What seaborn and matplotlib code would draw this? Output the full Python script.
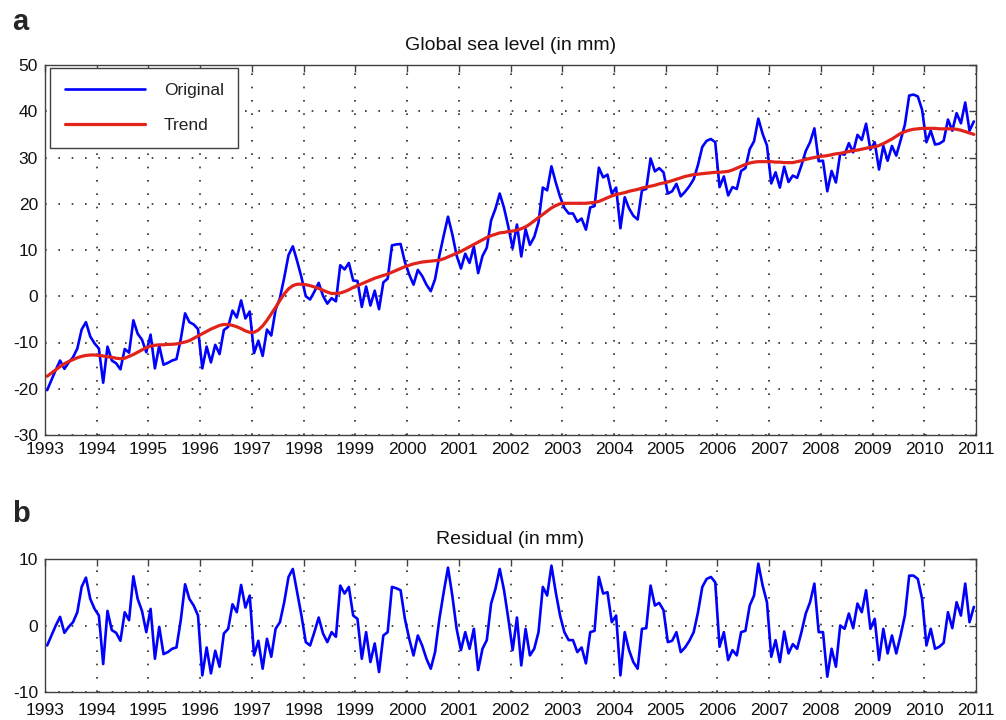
import numpy as np
import pandas as pd
import matplotlib
matplotlib.use("Agg")
import matplotlib.pyplot as plt
import seaborn as sns

# Monthly global mean sea level, Jan 1993 - Dec 2010 (mm), one row per year
original_mm = [
    -20.3, -18.1, -15.9, -13.9, -15.7, -14.3, -13.2, -11.3, -7.2, -5.6, -8.7, -10.2,   # 1993
    -11.3, -18.7, -10.9, -13.9, -14.5, -15.8, -11.4, -12.2, -5.2, -8.1, -9.4, -12.1,   # 1994
    -8.3, -15.6, -10.7, -14.8, -14.4, -13.9, -13.6, -9.3, -3.7, -5.6, -6.1, -7.1,      # 1995
    -15.6, -10.9, -14.3, -10.5, -12.5, -7.3, -6.6, -3.1, -4.6, -0.9, -4.8, -3.3,       # 1996
    -12.3, -9.6, -12.9, -7.2, -8.5, -2.9, -0.4, 4.0, 8.9, 10.8, 7.6, 4.1,             # 1997
    0.0, -0.7, 1.0, 2.9, 0.1, -1.6, -0.4, -1.1, 6.7, 5.8, 7.2, 3.4,                   # 1998
    3.3, -2.3, 2.1, -2.0, 1.2, -2.8, 3.0, 3.8, 11.0, 11.2, 11.3, 7.4,                 # 1999
    4.7, 2.5, 5.7, 4.4, 2.5, 1.1, 3.7, 8.8, 13.1, 17.2, 13.4, 8.8,                    # 2000
    6.0, 9.2, 7.2, 10.7, 5.0, 8.7, 10.5, 16.4, 18.9, 22.2, 19.1, 15.0,                # 2001
    10.4, 15.5, 8.6, 14.5, 11.1, 12.8, 16.0, 23.5, 22.9, 28.1, 24.6, 21.5,            # 2002
    19.1, 17.9, 17.9, 16.1, 16.8, 14.4, 19.2, 19.5, 27.8, 25.7, 26.3, 22.2,           # 2003
    23.5, 14.7, 21.4, 19.0, 17.4, 16.6, 22.9, 23.2, 29.8, 27.0, 27.7, 26.8,           # 2004
    22.2, 22.7, 24.3, 21.6, 22.6, 23.8, 25.3, 28.4, 32.3, 33.6, 34.0, 33.3,           # 2005
    23.6, 25.9, 21.8, 23.6, 23.2, 27.1, 27.7, 31.8, 33.5, 38.4, 35.1, 32.6,           # 2006
    24.4, 26.8, 23.5, 28.0, 24.7, 26.1, 25.6, 28.3, 31.4, 33.3, 36.3, 29.2,           # 2007
    29.3, 22.7, 27.1, 24.6, 30.9, 30.6, 33.1, 31.1, 34.9, 33.8, 37.3, 31.7,           # 2008
    33.3, 27.4, 32.5, 29.3, 32.5, 30.4, 33.7, 37.1, 43.4, 43.6, 43.2, 40.3,           # 2009
    33.3, 35.8, 32.8, 33.0, 33.6, 38.2, 35.8, 39.6, 37.4, 41.9, 35.8, 37.8,           # 2010
]

trend_mm = [
    -17.3, -16.6, -15.9, -15.2, -14.6, -14.1, -13.7, -13.3, -13.0, -12.8, -12.7, -12.7,  # 1993
    -12.8, -12.9, -13.1, -13.2, -13.4, -13.5, -13.4, -13.0, -12.6, -12.1, -11.6, -11.1,  # 1994
    -10.8, -10.6, -10.5, -10.5, -10.4, -10.4, -10.3, -10.1, -9.9, -9.6, -9.1, -8.6,      # 1995
    -8.1, -7.6, -7.1, -6.7, -6.3, -6.1, -6.1, -6.3, -6.6, -7.0, -7.5, -7.8,            # 1996
    -7.8, -7.3, -6.4, -5.2, -3.8, -2.4, -0.9, 0.5, 1.6, 2.3, 2.6, 2.6,                # 1997
    2.5, 2.3, 2.0, 1.7, 1.3, 0.9, 0.6, 0.6, 0.7, 1.0, 1.4, 1.9,                       # 1998
    2.3, 2.7, 3.1, 3.5, 3.9, 4.2, 4.5, 4.8, 5.2, 5.6, 6.0, 6.4,                       # 1999
    6.7, 7.0, 7.2, 7.4, 7.5, 7.6, 7.7, 7.8, 8.1, 8.5, 8.9, 9.3,                       # 2000
    9.7, 10.2, 10.7, 11.2, 11.7, 12.2, 12.7, 13.1, 13.4, 13.7, 13.8, 14.0,            # 2001
    14.1, 14.3, 14.6, 15.0, 15.6, 16.3, 17.0, 17.7, 18.4, 19.1, 19.6, 20.0,           # 2002
    20.1, 20.1, 20.1, 20.1, 20.1, 20.1, 20.2, 20.3, 20.5, 20.9, 21.3, 21.7,           # 2003
    22.0, 22.2, 22.4, 22.7, 22.9, 23.1, 23.4, 23.6, 23.8, 24.0, 24.3, 24.5,           # 2004
    24.7, 25.0, 25.3, 25.6, 25.9, 26.1, 26.3, 26.4, 26.5, 26.6, 26.7, 26.8,           # 2005
    26.8, 26.9, 27.0, 27.3, 27.7, 28.1, 28.5, 28.8, 29.0, 29.1, 29.1, 29.1,           # 2006
    29.1, 29.0, 29.0, 28.9, 28.9, 28.9, 29.1, 29.3, 29.6, 29.8, 30.0, 30.2,           # 2007
    30.3, 30.4, 30.6, 30.8, 30.9, 31.1, 31.3, 31.5, 31.6, 31.8, 32.0, 32.2,           # 2008
    32.3, 32.6, 33.0, 33.5, 34.0, 34.6, 35.2, 35.6, 35.9, 36.1, 36.2, 36.3,           # 2009
    36.3, 36.3, 36.3, 36.2, 36.2, 36.2, 36.2, 36.1, 35.9, 35.6, 35.3, 35.0,           # 2010
]

residual_mm = [
    -3.0, -1.5, 0.0, 1.3, -1.1, -0.2, 0.5, 2.0, 5.8, 7.2, 4.0, 2.5,        # 1993
    1.5, -5.8, 2.2, -0.7, -1.1, -2.3, 2.0, 0.8, 7.4, 4.0, 2.2, -1.0,       # 1994
    2.5, -5.0, -0.2, -4.3, -4.0, -3.5, -3.3, 0.8, 6.2, 4.0, 3.0, 1.5,      # 1995
    -7.5, -3.3, -7.2, -3.8, -6.2, -1.2, -0.5, 3.2, 2.0, 6.1, 2.7, 4.5,     # 1996
    -4.5, -2.3, -6.5, -2.0, -4.7, -0.5, 0.5, 3.5, 7.3, 8.5, 5.0, 1.5,      # 1997
    -2.5, -3.0, -1.0, 1.2, -1.2, -2.5, -1.0, -1.7, 6.0, 4.8, 5.8, 1.5,     # 1998
    1.0, -5.0, -1.0, -5.5, -2.7, -7.0, -1.5, -1.0, 5.8, 5.6, 5.3, 1.0,     # 1999
    -2.0, -4.5, -1.5, -3.0, -5.0, -6.5, -4.0, 1.0, 5.0, 8.7, 4.5, -0.5,    # 2000
    -3.7, -1.0, -3.5, -0.5, -6.7, -3.5, -2.2, 3.3, 5.5, 8.5, 5.3, 1.0,     # 2001
    -3.7, 1.2, -6.0, -0.5, -4.5, -3.5, -1.0, 5.8, 4.5, 9.0, 5.0, 1.5,      # 2002
    -1.0, -2.2, -2.2, -4.0, -3.3, -5.7, -1.0, -0.8, 7.3, 4.8, 5.0, 0.5,    # 2003
    1.5, -7.5, -1.0, -3.7, -5.5, -6.5, -0.5, -0.4, 6.0, 3.0, 3.4, 2.3,     # 2004
    -2.5, -2.3, -1.0, -4.0, -3.3, -2.3, -1.0, 2.0, 5.8, 7.0, 7.3, 6.5,     # 2005
    -3.2, -1.0, -5.2, -3.7, -4.5, -1.0, -0.8, 3.0, 4.5, 9.3, 6.0, 3.5,     # 2006
    -4.7, -2.2, -5.5, -0.9, -4.2, -2.8, -3.5, -1.0, 1.8, 3.5, 6.3, -1.0,   # 2007
    -1.0, -7.7, -3.5, -6.2, 0.0, -0.5, 1.8, -0.4, 3.3, 2.0, 5.3, -0.5,     # 2008
    1.0, -5.2, -0.5, -4.2, -1.5, -4.2, -1.5, 1.5, 7.5, 7.5, 7.0, 4.0,      # 2009
    -3.0, -0.5, -3.5, -3.2, -2.6, 2.0, -0.4, 3.5, 1.5, 6.3, 0.5, 2.8,      # 2010
]

year_ticks = list(range(1993, 2012))
sea_level_ticks = list(range(-30, 51, 10))
residual_ticks = [-10, 0, 10]

# mid-month time stamps in decimal years
month_index = np.arange(len(original_mm))
decimal_year = 1993 + (month_index + 0.5) / 12.0

df = pd.DataFrame({
    "year": decimal_year,
    "Original": original_mm,
    "Trend": trend_mm,
    "Residual": residual_mm,
})

sns.set_theme(style="white")
plt.rcParams["font.family"] = ["Liberation Sans", "DejaVu Sans"]
plt.rcParams["axes.unicode_minus"] = False

BLUE = "#0000FF"
RED = "#E2231A"
FRAME = "#404040"
GRID = "#2a2a2a"
TICK_FS = 12.5
TITLE_FS = 14

W, H = 1006, 720
fig = plt.figure(figsize=(W / 100, H / 100), dpi=100)
fig.patch.set_facecolor("white")
ax1 = fig.add_axes([45 / W, 1 - 435 / H, 931 / W, 370 / H])
ax2 = fig.add_axes([45 / W, 1 - 692 / H, 931 / W, 133 / H])

sns.lineplot(data=df, x="year", y="Original", ax=ax1, color=BLUE,
             linewidth=1.9, label="Original", estimator=None)
sns.lineplot(data=df, x="year", y="Trend", ax=ax1, color=RED,
             linewidth=2.3, label="Trend", estimator=None)
sns.lineplot(data=df, x="year", y="Residual", ax=ax2, color=BLUE,
             linewidth=1.9, legend=False, estimator=None)

for ax in (ax1, ax2):
    ax.set_facecolor("white")
    ax.set_xlim(1993, 2011)
    ax.set_xticks(year_ticks)
    ax.set_xticklabels([str(y) for y in year_ticks])
    ax.set_xlabel("")
    ax.set_ylabel("")
    ax.grid(True, linestyle=(0, (1, 7)), color=GRID, linewidth=1.2)
    ax.tick_params(direction="in", length=5, width=1.0, top=True, right=True,
                   colors=FRAME, labelcolor="#111111", labelsize=TICK_FS, pad=5)
    for sp in ax.spines.values():
        sp.set_color(FRAME)
        sp.set_linewidth(1.0)

ax1.set_ylim(-30, 50)
ax1.set_yticks(sea_level_ticks)
ax1.set_title("Global sea level (in mm)", fontsize=TITLE_FS, pad=11, color="#111111")

ax2.set_ylim(-10, 10)
ax2.set_yticks(residual_ticks)
ax2.set_title("Residual (in mm)", fontsize=TITLE_FS, pad=11, color="#111111")
ax2.tick_params(axis="x", pad=8)

leg = ax1.legend(loc="upper left", bbox_to_anchor=(0.0054, 0.992),
                 borderaxespad=0, frameon=True, fancybox=False,
                 edgecolor=FRAME, framealpha=1, fontsize=TICK_FS,
                 handlelength=4.6, handletextpad=1.1, labelspacing=1.15,
                 borderpad=0.85)
leg.get_frame().set_linewidth(1.0)
for txt in leg.get_texts():
    txt.set_color("#222222")

fig.text(12 / W, 1 - 30 / H, "a", fontsize=21, fontweight="bold", va="baseline")
fig.text(12 / W, 1 - 522 / H, "b", fontsize=21, fontweight="bold", va="baseline")

fig.savefig("out.png", dpi=100)
